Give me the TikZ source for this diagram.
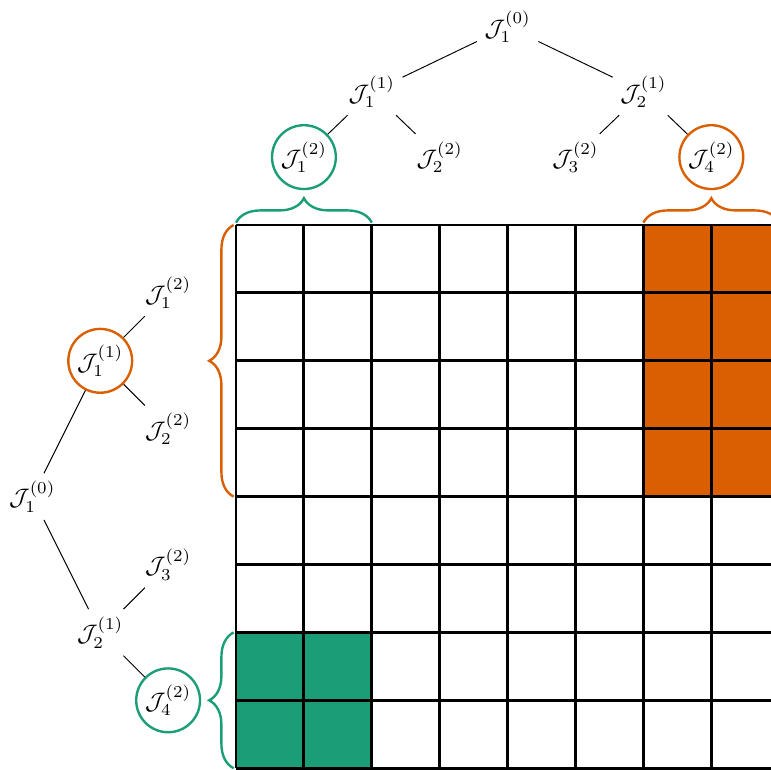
\documentclass[tikz,border=0pt]{standalone}
\usepackage{amsmath}
\usetikzlibrary{decorations.pathreplacing}
\definecolor{dkgreen}{HTML}{1B9E77}
\definecolor{dkorange}{HTML}{D95F02}

\begin{document}
\begin{tikzpicture}[
        lbl/.style={inner sep=3pt},
        ring/.style={circle,draw=#1,line width=1pt,inner sep=0pt,minimum size=0.94cm},
        brc/.style={draw=#1,line width=1pt,decorate,decoration={brace,amplitude=0.36cm,raise=1pt}},
        level 1/.style={sibling distance=4cm},
        level 2/.style={sibling distance=2cm},
        edge from parent/.style={draw,thin}
      ]
      \useasboundingbox (-3.476,3.314) rectangle (7.879,-8.012);
      % blocks
      \fill[dkorange] (6,0) rectangle (8,-4);
      \fill[dkgreen] (0,-6) rectangle (2,-8);
      \draw[line width=1.2pt] (0,0) grid (8,-8);
      % column tree
      \node[lbl] (col) at (4,2.92) {$\mathcal{J}_1^{(0)}$}
        [level distance=0.96cm]
        child { node[lbl] (col-a) {$\mathcal{J}_1^{(1)}$}
          child { node[ring=dkgreen] (col-aa) {$\mathcal{J}_1^{(2)}$} }
          child { node[lbl] (col-ab) {$\mathcal{J}_2^{(2)}$} }
        }
        child { node[lbl] (col-b) {$\mathcal{J}_2^{(1)}$}
          child { node[lbl] (col-ba) {$\mathcal{J}_3^{(2)}$} }
          child { node[ring=dkorange] (col-bb) {$\mathcal{J}_4^{(2)}$} }
        };
      % row tree
      \node[lbl] (row) at (-3,-4) {$\mathcal{J}_1^{(0)}$}
        [grow'=right,level distance=1cm]
        child { node[ring=dkorange] (row-a) {$\mathcal{J}_1^{(1)}$}
          child { node[lbl] (row-aa) {$\mathcal{J}_1^{(2)}$} }
          child { node[lbl] (row-ab) {$\mathcal{J}_2^{(2)}$} }
        }
        child { node[lbl] (row-b) {$\mathcal{J}_2^{(1)}$}
          child { node[lbl] (row-ba) {$\mathcal{J}_3^{(2)}$} }
          child { node[ring=dkgreen] (row-bb) {$\mathcal{J}_4^{(2)}$} }
        };
      % braces
      \draw[brc=dkgreen] (0,0) -- (2,0);
      \draw[brc=dkorange] (6,0) -- (8,0);
      \draw[brc=dkorange] (0,-4) -- (0,0);
      \draw[brc=dkgreen] (0,-8) -- (0,-6);
    \end{tikzpicture}
\end{document}
